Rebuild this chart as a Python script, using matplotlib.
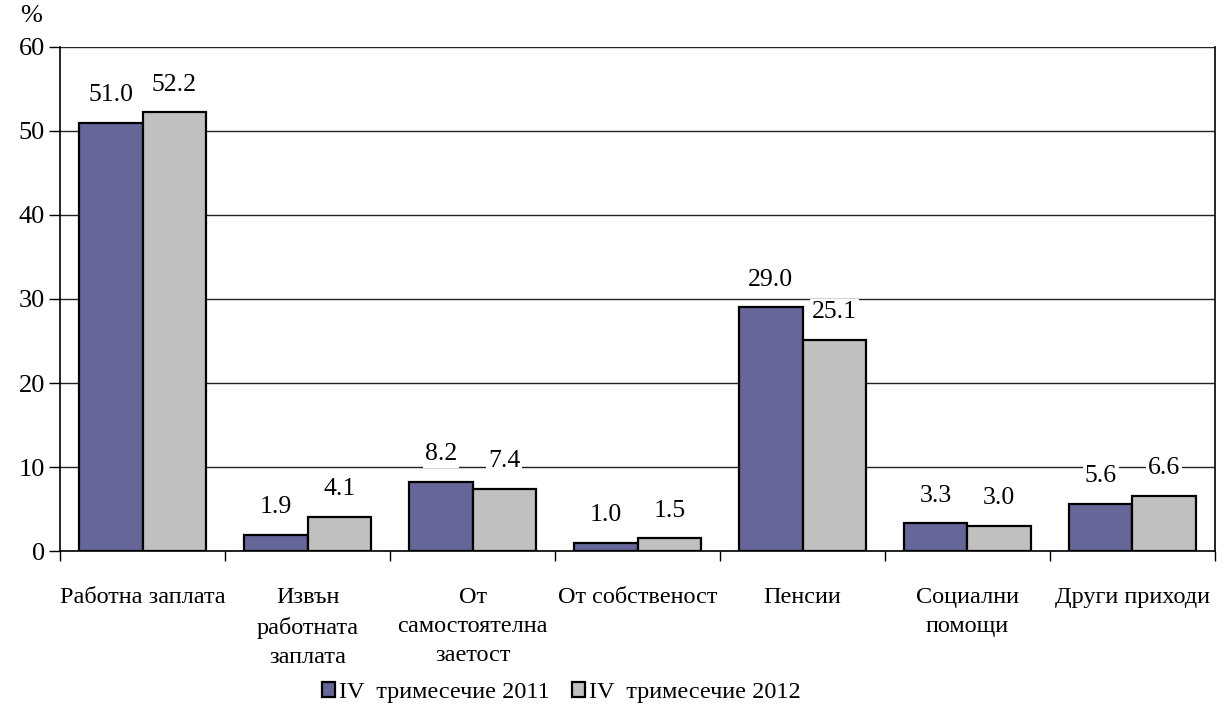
import numpy as np
import matplotlib
matplotlib.use("Agg")
from matplotlib import pyplot as plt

# Данни
kategorii = ["Работна заплата", "Извън\nработната\nзаплата", "От\nсамостоятелна\nзаетост",
             "От собственост", "Пенсии", "Социални\nпомощи", "Други приходи"]
q4_2011 = [51.0, 1.9, 8.2, 1.0, 29.0, 3.3, 5.6]
q4_2012 = [52.2, 4.1, 7.4, 1.5, 25.1, 3.0, 6.6]
serii = ["IV  тримесечие 2011", "IV  тримесечие 2012"]
yticks = [0, 10, 20, 30, 40, 50, 60]

plt.rcParams['font.family'] = ['Liberation Serif', 'DejaVu Serif']

fig = plt.figure(figsize=(12.28, 7.06), dpi=100)
ax = fig.add_axes([0.0489, 0.2195, 0.9405, 0.714])

x = np.arange(len(kategorii))
w = 0.385
b1 = ax.bar(x - w / 2, q4_2011, w, color="#666699", edgecolor="black", linewidth=1.6,
            label=serii[0], zorder=3)
b2 = ax.bar(x + w / 2, q4_2012, w, color="#C0C0C0", edgecolor="black", linewidth=1.6,
            label=serii[1], zorder=3)

# Етикети над стълбовете
for bars, vals in [(b1, q4_2011), (b2, q4_2012)]:
    for r, v in zip(bars, vals):
        ax.annotate(f"{v:.1f}", (r.get_x() + r.get_width() / 2, v), xytext=(0, 12),
                    textcoords="offset points", ha="center", va="bottom", fontsize=18.5,
                    bbox=dict(facecolor="white", edgecolor="none", pad=1.5), zorder=5)

ax.set_xlim(-0.5, len(kategorii) - 0.5)
ax.set_ylim(0, 60)
ax.set_yticks(yticks)
ax.yaxis.grid(True, color="#222222", linewidth=1.0, zorder=0)
ax.set_axisbelow(True)
ax.tick_params(axis="y", labelsize=19, length=8, width=1, direction="out", pad=3)

# Отметки между категориите
ax.set_xticks(np.arange(-0.5, len(kategorii), 1))
ax.set_xticklabels([])
ax.tick_params(axis="x", length=7, width=1, direction="out")
ax.set_xticks(x, minor=True)
ax.set_xticklabels(kategorii, minor=True, fontsize=17.5, linespacing=1.5, va="top")
ax.tick_params(axis="x", which="minor", length=0, pad=26)

ax.spines["top"].set_visible(False)
for s in ["left", "bottom", "right"]:
    ax.spines[s].set_linewidth(1.2)

fig.text(0.016, 0.977, "%", fontsize=19, ha="left", va="center")

fig.legend(loc="lower center", bbox_to_anchor=(0.457, -0.027), ncol=2, fontsize=17.5,
           frameon=False, handlelength=0.55, handleheight=0.55, handletextpad=0.15,
           columnspacing=0.9)

fig.savefig("out.png", dpi=100)
